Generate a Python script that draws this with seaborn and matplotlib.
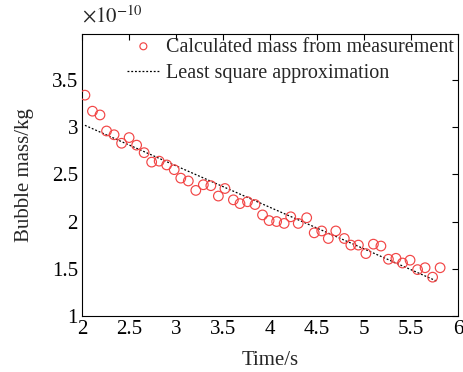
import matplotlib
matplotlib.use("Agg")
import matplotlib.pyplot as plt
import seaborn as sns
import numpy as np
import pandas as pd

# measured data (units of 1e-10 kg)
time_s = [2.03, 2.11, 2.19, 2.26, 2.34, 2.42, 2.50, 2.58, 2.66, 2.74, 2.82, 2.90,
          2.98, 3.05, 3.13, 3.21, 3.29, 3.37, 3.45, 3.52, 3.61, 3.68, 3.76, 3.84,
          3.92, 3.99, 4.07, 4.15, 4.22, 4.30, 4.39, 4.47, 4.55, 4.62, 4.70, 4.79,
          4.86, 4.94, 5.02, 5.10, 5.18, 5.26, 5.34, 5.41, 5.49, 5.57, 5.65, 5.73, 5.81]
mass = [3.34, 3.17, 3.13, 2.96, 2.92, 2.83, 2.89, 2.81, 2.73, 2.63, 2.64, 2.60,
        2.55, 2.46, 2.43, 2.33, 2.39, 2.38, 2.27, 2.35, 2.23, 2.19, 2.21, 2.18,
        2.07, 2.01, 2.00, 1.98, 2.05, 1.98, 2.04, 1.88, 1.90, 1.82, 1.90, 1.82,
        1.75, 1.75, 1.66, 1.76, 1.74, 1.60, 1.61, 1.56, 1.59, 1.49, 1.51, 1.41, 1.51]

# least-square approximation
fit_t = [2.03, 3.00, 4.00, 5.00, 5.77]
fit_m = [3.02, 2.59, 2.15, 1.71, 1.37]

xticks = [2, 2.5, 3, 3.5, 4, 4.5, 5, 5.5, 6]
yticks = [1, 1.5, 2, 2.5, 3, 3.5]

sns.set_style("white")
plt.rcParams['font.family'] = ['Liberation Serif', 'DejaVu Serif']
plt.rcParams['mathtext.fontset'] = 'stix'

fig = plt.figure(figsize=(4.64, 3.72), dpi=100)
ax = fig.add_axes([0.177, 0.151, 0.81, 0.758])

df = pd.DataFrame({"t": time_s, "m": mass})
sns.scatterplot(data=df, x="t", y="m", ax=ax, marker="o", s=48,
                facecolor="none", edgecolor="#f24545", linewidth=0.85,
                label="Calculated mass from measurement", zorder=3)
sns.lineplot(x=fit_t, y=fit_m, ax=ax, color="black", linestyle=(0, (1.5, 1.5)),
             linewidth=0.9, label="Least square approximation", zorder=2)

ax.set_xlim(2, 6)
ax.set_ylim(1, 3.99)
ax.set_xticks(xticks)
ax.set_xticklabels([f"{v:g}" for v in xticks])
ax.set_yticks(yticks)
ax.set_yticklabels([f"{v:g}" for v in yticks])
ax.tick_params(direction="in", length=4, width=0.8, top=True, right=True,
               labelsize=15, pad=3, colors="black")
for s in ax.spines.values():
    s.set_visible(True)
    s.set_color("black")
    s.set_linewidth(0.8)

ax.set_xlabel("Time/s", fontsize=15, labelpad=9)
ax.set_ylabel("Bubble mass/kg", fontsize=15, labelpad=13)

fig.text(0.177, 0.925, r"$\times 10^{-10}$", fontsize=15, ha="left", va="bottom")

leg = ax.legend(loc="upper right", frameon=False, fontsize=14.5,
                bbox_to_anchor=(1.02, 1.03), handlelength=1.6,
                handletextpad=0.3, labelspacing=0.35, borderaxespad=0.2)
for h in leg.legend_handles:
    try:
        h.set_sizes([25])
    except Exception:
        pass

fig.savefig("out.png", dpi=100)
